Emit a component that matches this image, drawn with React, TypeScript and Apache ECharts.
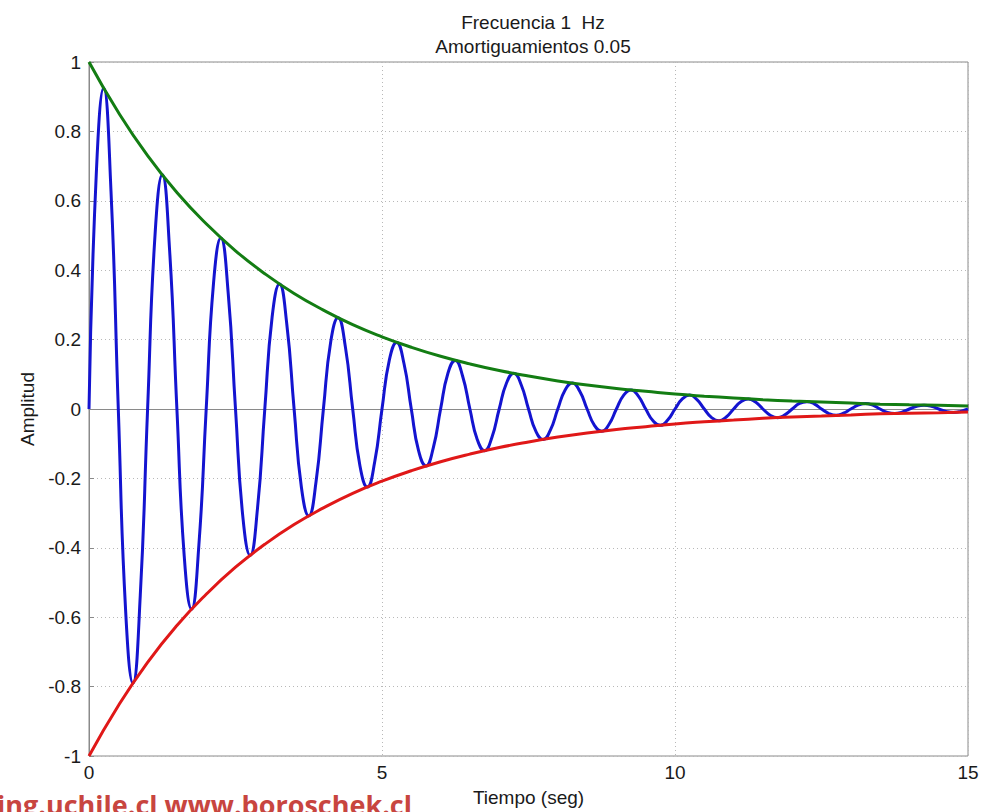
import React, { useEffect, useRef } from "react";
import * as echarts from "echarts";

const titleLines = ["Frecuencia 1  Hz", "Amortiguamientos 0.05"];
const xName = "Tiempo (seg)";
const yName = "Amplitud";
const watermark = "ing.uchile.cl www.boroschek.cl";

// Damped response sampled every 1/8 s (0 .. 15 s)
const respTimes = [
  0, 0.125, 0.25, 0.375, 0.5, 0.625, 0.75, 0.875,
  1, 1.125, 1.25, 1.375, 1.5, 1.625, 1.75, 1.875,
  2, 2.125, 2.25, 2.375, 2.5, 2.625, 2.75, 2.875,
  3, 3.125, 3.25, 3.375, 3.5, 3.625, 3.75, 3.875,
  4, 4.125, 4.25, 4.375, 4.5, 4.625, 4.75, 4.875,
  5, 5.125, 5.25, 5.375, 5.5, 5.625, 5.75, 5.875,
  6, 6.125, 6.25, 6.375, 6.5, 6.625, 6.75, 6.875,
  7, 7.125, 7.25, 7.375, 7.5, 7.625, 7.75, 7.875,
  8, 8.125, 8.25, 8.375, 8.5, 8.625, 8.75, 8.875,
  9, 9.125, 9.25, 9.375, 9.5, 9.625, 9.75, 9.875,
  10, 10.125, 10.25, 10.375, 10.5, 10.625, 10.75, 10.875,
  11, 11.125, 11.25, 11.375, 11.5, 11.625, 11.75, 11.875,
  12, 12.125, 12.25, 12.375, 12.5, 12.625, 12.75, 12.875,
  13, 13.125, 13.25, 13.375, 13.5, 13.625, 13.75, 13.875,
  14, 14.125, 14.25, 14.375, 14.5, 14.625, 14.75, 14.875,
  15,
];
const respValues = [
  0, 0.68, 0.925, 0.629, 0, -0.581, -0.79, -0.537,
  0, 0.497, 0.675, 0.459, 0, -0.424, -0.577, -0.392,
  0, 0.363, 0.493, 0.335, 0, -0.31, -0.422, -0.287,
  0, 0.265, 0.36, 0.245, 0, -0.226, -0.308, -0.209,
  0, 0.194, 0.263, 0.179, 0, -0.165, -0.225, -0.153,
  0, 0.141, 0.192, 0.131, 0, -0.121, -0.164, -0.112,
  0, 0.103, 0.14, 0.095, 0, -0.088, -0.12, -0.082,
  0, 0.075, 0.103, 0.07, 0, -0.064, -0.088, -0.06,
  0, 0.055, 0.075, 0.051, 0, -0.047, -0.064, -0.044,
  0, 0.04, 0.055, 0.037, 0, -0.034, -0.047, -0.032,
  0, 0.029, 0.04, 0.027, 0, -0.025, -0.034, -0.023,
  0, 0.021, 0.029, 0.02, 0, -0.018, -0.025, -0.017,
  0, 0.016, 0.021, 0.015, 0, -0.013, -0.018, -0.012,
  0, 0.011, 0.016, 0.011, 0, -0.01, -0.013, -0.009,
  0, 0.008, 0.011, 0.008, 0, -0.007, -0.01, -0.007,
  0,
];

// Envelope sampled every 0.5 s
const envTimes = [
  0, 0.5, 1, 1.5, 2, 2.5, 3, 3.5, 4, 4.5, 5, 5.5, 6, 6.5, 7, 7.5,
  8, 8.5, 9, 9.5, 10, 10.5, 11, 11.5, 12, 12.5, 13, 13.5, 14, 14.5, 15,
];
const envUpper = [
  1, 0.855, 0.73, 0.624, 0.534, 0.456, 0.39, 0.333, 0.285, 0.243, 0.208,
  0.178, 0.152, 0.13, 0.111, 0.095, 0.081, 0.069, 0.059, 0.051, 0.043,
  0.037, 0.032, 0.027, 0.023, 0.02, 0.017, 0.014, 0.012, 0.011, 0.009,
];
const envLower = [
  -1, -0.855, -0.73, -0.624, -0.534, -0.456, -0.39, -0.333, -0.285, -0.243, -0.208,
  -0.178, -0.152, -0.13, -0.111, -0.095, -0.081, -0.069, -0.059, -0.051, -0.043,
  -0.037, -0.032, -0.027, -0.023, -0.02, -0.017, -0.014, -0.012, -0.011, -0.009,
];

const FONT = "'Liberation Sans', Arial, sans-serif";
const FS = 19;

export default function App() {
  const ref = useRef<HTMLDivElement>(null);
  useEffect(() => {
    if (!ref.current) return;
    const chart = echarts.init(ref.current, undefined, { renderer: "svg" });
    const zip = (xs: number[], ys: number[]) => xs.map((x, i) => [x, ys[i]]);
    chart.setOption({
      animation: false,
      backgroundColor: "#ffffff",
      title: {
        text: titleLines.join("\n"),
        left: 528,
        textAlign: "center",
        top: 5,
        textStyle: {
          fontFamily: FONT,
          fontSize: FS,
          fontWeight: "normal",
          color: "#1a1a1a",
          lineHeight: 24,
        },
      },
      grid: {
        left: 89,
        right: 28,
        top: 62,
        bottom: 55,
        show: true,
        borderColor: "#8a8a8a",
        borderWidth: 1,
      },
      xAxis: {
        type: "value",
        min: 0,
        max: 15,
        interval: 5,
        name: xName,
        nameLocation: "middle",
        nameGap: 32,
        nameTextStyle: { fontFamily: FONT, fontSize: FS, color: "#1a1a1a" },
        axisLine: { show: true, lineStyle: { color: "#8a8a8a" } },
        axisTick: { show: true, inside: true, length: 5, lineStyle: { color: "#8a8a8a" } },
        axisLabel: { fontFamily: FONT, fontSize: FS, color: "#1a1a1a", margin: 7 },
        splitLine: { show: true, lineStyle: { color: "#b8b8b8", type: [1, 3], width: 1 } },
      },
      yAxis: {
        type: "value",
        min: -1,
        max: 1,
        interval: 0.2,
        name: yName,
        nameLocation: "middle",
        nameGap: 51,
        nameTextStyle: { fontFamily: FONT, fontSize: FS, color: "#1a1a1a" },
        axisLine: { show: true, lineStyle: { color: "#8a8a8a" } },
        axisTick: { show: true, inside: true, length: 5, lineStyle: { color: "#8a8a8a" } },
        axisLabel: {
          fontFamily: FONT,
          fontSize: FS,
          color: "#1a1a1a",
          margin: 8,
          formatter: (v: number) => String(Math.round(v * 10) / 10),
        },
        splitLine: { show: true, lineStyle: { color: "#b8b8b8", type: [1, 3], width: 1 } },
      },
      graphic: [
        {
          type: "text",
          left: -3,
          top: 791,
          style: {
            text: watermark,
            font: "bold 27px 'Open Sans', sans-serif",
            fill: "#c8453f",
          },
        },
      ],
      series: [
        {
          type: "line",
          data: zip(respTimes, respValues),
          smooth: 0.5,
          showSymbol: false,
          lineStyle: { color: "#1414d0", width: 3 },
          z: 2,
        },
        {
          type: "line",
          data: zip(envTimes, envUpper),
          smooth: true,
          showSymbol: false,
          lineStyle: { color: "#137d13", width: 3 },
          z: 3,
        },
        {
          type: "line",
          data: zip(envTimes, envLower),
          smooth: true,
          showSymbol: false,
          lineStyle: { color: "#e01818", width: 3 },
          z: 3,
        },
      ],
    });
    return () => chart.dispose();
  }, []);
  return (
    <div
      ref={ref}
      style={{ position: "fixed", left: 0, top: 0, width: 996, height: 812 }}
    />
  );
}
